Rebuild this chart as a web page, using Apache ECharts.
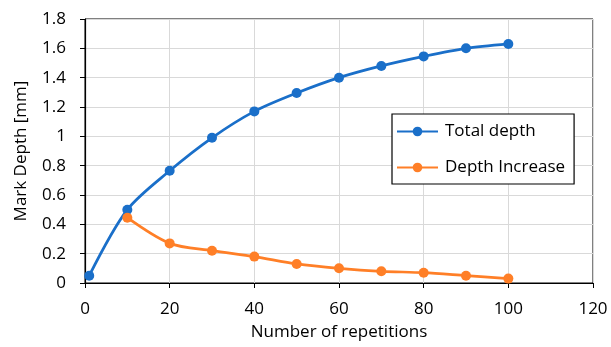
<!DOCTYPE html>
<html><head><meta charset="utf-8">
<script src="https://cdn.jsdelivr.net/npm/echarts@6/dist/echarts.min.js"></script>
<style>html,body{margin:0;padding:0;background:#fff}#c{width:611px;height:347px}</style>
</head><body><div id="c"></div>
<script>
const xTotal = [1, 10, 20, 30, 40, 50, 60, 70, 80, 90, 100];
const totalDepth = [0.05, 0.50, 0.765, 0.99, 1.17, 1.295, 1.40, 1.48, 1.545, 1.60, 1.63];
const xIncrease = [10, 20, 30, 40, 50, 60, 70, 80, 90, 100];
const depthIncrease = [0.445, 0.27, 0.22, 0.18, 0.13, 0.10, 0.08, 0.07, 0.05, 0.03];
const seriesNames = ['Total depth', 'Depth Increase'];
const colors = ['#1a6fc9', '#ff7f27'];

const font = '"Open Sans", Lato, sans-serif';
const fs = 17;
const chart = echarts.init(document.getElementById('c'), null, {renderer: 'canvas'});
chart.setOption({
  animation: false,
  color: colors,
  textStyle: {fontFamily: font},
  grid: {left: 85, right: 18, top: 19, bottom: 64, show: true, borderColor: '#000', borderWidth: 1, containLabel: false},
  legend: {
    orient: 'vertical', left: 392, top: 114,
    backgroundColor: '#fff', borderColor: '#000', borderWidth: 1.2,
    padding: [9, 9, 8, 4], itemGap: 19, itemWidth: 41, itemHeight: 12,
    textStyle: {fontFamily: font, fontSize: fs, color: '#000', padding: [0, 0, 0, 2]},
    data: seriesNames
  },
  xAxis: {
    type: 'value', min: 0, max: 120, interval: 20,
    name: 'Number of repetitions', nameLocation: 'middle', nameGap: 41,
    nameTextStyle: {fontFamily: font, fontSize: fs, color: '#000'},
    axisLine: {show: true, lineStyle: {color: '#000', width: 1.2}},
    axisTick: {show: true, inside: false, length: 5, lineStyle: {color: '#000'}},
    axisLabel: {fontFamily: font, fontSize: fs, color: '#000', margin: 18},
    splitLine: {show: true, lineStyle: {color: '#d9d9d9', width: 1}}
  },
  yAxis: {
    type: 'value', min: 0, max: 1.8, interval: 0.2,
    name: 'Mark Depth [mm]', nameLocation: 'middle', nameGap: 55, nameRotate: 90,
    nameTextStyle: {fontFamily: font, fontSize: fs, color: '#000'},
    axisLine: {show: true, lineStyle: {color: '#000', width: 1.2}},
    axisTick: {show: true, inside: false, length: 5, lineStyle: {color: '#000'}},
    axisLabel: {fontFamily: font, fontSize: fs, color: '#000', margin: 19,
      formatter: v => String(Math.round(v * 10) / 10)},
    splitLine: {show: true, lineStyle: {color: '#d9d9d9', width: 1}}
  },
  series: [
    {
      name: seriesNames[0], type: 'line', smooth: 0.3,
      data: xTotal.map((x, i) => [x, totalDepth[i]]),
      symbol: 'circle', symbolSize: 10,
      lineStyle: {width: 2.75, color: colors[0]}, itemStyle: {color: colors[0]}
    },
    {
      name: seriesNames[1], type: 'line', smooth: 0.3,
      data: xIncrease.map((x, i) => [x, depthIncrease[i]]),
      symbol: 'circle', symbolSize: 10,
      lineStyle: {width: 2.75, color: colors[1]}, itemStyle: {color: colors[1]}
    }
  ]
});
</script></body></html>
